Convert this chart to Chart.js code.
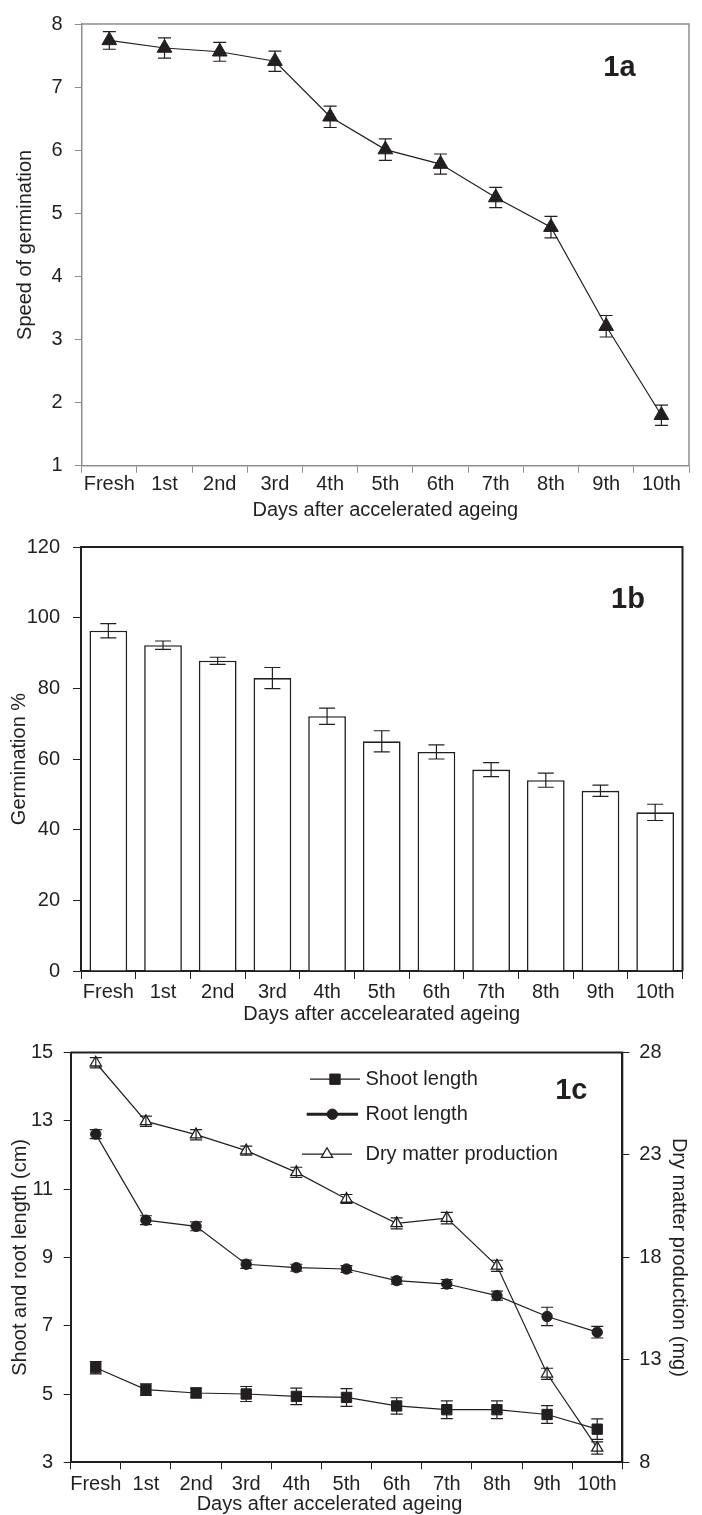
<!DOCTYPE html>
<html><head><meta charset="utf-8">
<script src="https://cdn.jsdelivr.net/npm/chart.js@4.4.1/dist/chart.umd.min.js"></script>
<style>
html,body{margin:0;padding:0;background:#fff;}
body{width:702px;height:1515px;position:relative;overflow:hidden;}
.c{position:absolute;left:0;width:702px;}
#ca{top:0;height:522px;}
#cb{top:522px;height:508px;}
#cc{top:1030px;height:485px;}
</style></head><body>
<div class="c" id="ca"><canvas id="a"></canvas></div>
<div class="c" id="cb"><canvas id="b"></canvas></div>
<div class="c" id="cc"><canvas id="c"></canvas></div>
<script>
// ---------- data ----------
const days = ['Fresh','1st','2nd','3rd','4th','5th','6th','7th','8th','9th','10th'];
const speedOfGermination = [7.74,7.62,7.56,7.41,6.53,6.01,5.78,5.25,4.78,3.21,1.80];
const speedErr = [0.14,0.16,0.15,0.16,0.17,0.17,0.16,0.16,0.17,0.17,0.16];
const germinationPct = [96.3,92.2,87.8,82.9,72.1,65.0,62.0,57.0,54.0,51.0,44.9];
const germinationErr = [2.0,1.2,1.0,3.0,2.3,3.0,2.0,2.0,2.0,1.6,2.3];
const shootLength = [5.77,5.13,5.03,5.00,4.93,4.90,4.65,4.54,4.54,4.40,3.97];
const shootErr = [0.18,0.17,0.14,0.22,0.24,0.26,0.24,0.26,0.26,0.26,0.30];
const rootLength = [12.61,10.09,9.91,8.80,8.70,8.66,8.32,8.22,7.88,7.27,6.81];
const rootErr = [0.13,0.13,0.13,0.12,0.10,0.10,0.10,0.13,0.13,0.27,0.17];
const dryMatter = [27.5,24.64,23.99,23.21,22.15,20.85,19.66,19.92,17.59,12.32,8.70];
const dryErr = [0.25,0.25,0.25,0.22,0.25,0.22,0.27,0.28,0.27,0.27,0.30];

const INK = '#231f20';
const GRAY = '#8e8e8e';
const FONT = '"Liberation Sans", Arial, Helvetica, sans-serif';
Chart.defaults.font.family = FONT;
Chart.defaults.font.size = 20;
Chart.defaults.color = INK;
Chart.defaults.animation = false;

// ---------- plugins ----------
const errorBars = {
  id: 'errorBars',
  afterDatasetsDraw(chart, args, opts) {
    const ctx = chart.ctx;
    chart.data.datasets.forEach((ds, i) => {
      if (!ds.errors) return;
      const meta = chart.getDatasetMeta(i);
      const ys = chart.scales[meta.yAxisID];
      ctx.save();
      ctx.strokeStyle = opts.color || INK;
      ctx.lineWidth = opts.width || 1;
      meta.data.forEach((el, j) => {
        const v = ds.data[j], e = ds.errors[j];
        const x = el.x, y1 = ys.getPixelForValue(v + e), y2 = ys.getPixelForValue(v - e);
        const c = opts.cap;
        ctx.beginPath();
        ctx.moveTo(x, y1); ctx.lineTo(x, y2);
        ctx.moveTo(x - c, y1); ctx.lineTo(x + c, y1);
        ctx.moveTo(x - c, y2); ctx.lineTo(x + c, y2);
        ctx.stroke();
      });
      ctx.restore();
    });
  }
};
const frame = {
  id: 'frame',
  beforeDatasetsDraw(chart, args, opts) {
    const {left, top, right, bottom} = chart.chartArea;
    const ctx = chart.ctx;
    ctx.save();
    ctx.strokeStyle = opts.color; ctx.lineWidth = opts.width;
    ctx.beginPath();
    ctx.moveTo(left, top); ctx.lineTo(right, top); ctx.lineTo(right, bottom);
    ctx.stroke();
    ctx.restore();
  }
};
const panelLabel = {
  id: 'panelLabel',
  afterDraw(chart, args, opts) {
    const {top, right} = chart.chartArea;
    const ctx = chart.ctx;
    ctx.save();
    ctx.font = 'bold ' + opts.size + 'px ' + FONT;
    ctx.fillStyle = INK;
    ctx.textAlign = 'center';
    ctx.textBaseline = 'alphabetic';
    ctx.fillText(opts.text, right - opts.dx, top + opts.dy);
    ctx.restore();
  }
};
// x-axis title drawn slightly left of the plot centre (as in panel 1c)
const shiftedXTitle = {
  id: 'shiftedXTitle',
  afterDraw(chart, args, opts) {
    const {left, right} = chart.chartArea;
    const ctx = chart.ctx;
    ctx.save();
    ctx.font = '20px ' + FONT;
    ctx.fillStyle = INK;
    ctx.textAlign = 'center';
    ctx.textBaseline = 'middle';
    ctx.fillText(opts.text, (left + right) / 2 + opts.dx, chart.height - opts.fromBottom);
    ctx.restore();
  }
};
const insideLegend = {
  id: 'insideLegend',
  afterDraw(chart, args, opts) {
    const ctx = chart.ctx;
    const {left, top} = chart.chartArea;
    chart.data.datasets.forEach((ds, i) => {
      const it = opts.items[i];
      const y = top + it.dy;
      const x0 = left + it.x0, x1 = left + it.x1, xm = (x0 + x1) / 2;
      ctx.save();
      ctx.strokeStyle = INK; ctx.lineWidth = it.lw;
      ctx.beginPath(); ctx.moveTo(x0, y); ctx.lineTo(x1, y); ctx.stroke();
      ctx.fillStyle = ds.pointBackgroundColor;
      ctx.strokeStyle = ds.pointBorderColor;
      ctx.lineWidth = ds.pointBorderWidth;
      Chart.helpers.drawPoint(ctx, {pointStyle: ds.pointStyle, radius: ds.pointRadius, borderWidth: ds.pointBorderWidth, rotation: 0}, xm, y);
      ctx.fillStyle = INK;
      ctx.font = '20px ' + FONT;
      ctx.textBaseline = 'middle'; ctx.textAlign = 'left';
      ctx.fillText(ds.label, left + opts.textX, y);
      ctx.restore();
    });
  }
};

const xTicks = (pad) => ({padding: pad, color: INK, font: {size: 20}, maxRotation: 0, minRotation: 0, autoSkip: false});

// ---------- chart 1a ----------
new Chart(document.getElementById('a'), {
  type: 'line',
  data: {
    labels: days,
    datasets: [{
      label: 'Speed of germination',
      data: speedOfGermination,
      errors: speedErr,
      borderColor: INK, borderWidth: 1.2, tension: 0,
      pointStyle: 'triangle', pointRadius: 8.5,
      pointBackgroundColor: INK, pointBorderColor: INK, pointBorderWidth: 1
    }]
  },
  options: {
    responsive: true, maintainAspectRatio: false,
    layout: {padding: {left: 0, right: 13, top: 16.7, bottom: 0}},
    plugins: {
      legend: {display: false}, tooltip: {enabled: false},
      errorBars: {cap: 6.5, width: 1.2, color: INK},
      frame: {color: GRAY, width: 1.5},
      panelLabel: {text: '1a', size: 29, dx: 69.5, dy: 51.6}
    },
    scales: {
      x: {
        offset: true,
        grid: {offset: true, drawOnChartArea: false, drawTicks: true, tickLength: 7, color: GRAY, lineWidth: 1},
        border: {display: true, color: GRAY, width: 1.5},
        ticks: xTicks(0),
        title: {display: true, text: 'Days after accelerated ageing', color: INK, font: {size: 20}, padding: {top: 0, bottom: 0}},
        afterFit: s => { s.height = 522 - 465.7; }
      },
      y: {
        min: 1, max: 8,
        ticks: {stepSize: 1, padding: 12, color: INK, font: {size: 20}},
        grid: {drawOnChartArea: false, drawTicks: true, tickLength: 7, color: GRAY, lineWidth: 1},
        border: {display: true, color: GRAY, width: 1.5},
        title: {display: true, text: 'Speed of germination', color: INK, font: {size: 20}, padding: {top: 13, bottom: 0}},
        afterFit: s => { s.width = 81.7; }
      }
    }
  },
  plugins: [frame, errorBars, panelLabel]
});

// ---------- chart 1b ----------
new Chart(document.getElementById('b'), {
  type: 'bar',
  data: {
    labels: days,
    datasets: [{
      label: 'Germination %',
      data: germinationPct,
      errors: germinationErr,
      backgroundColor: '#ffffff', borderColor: INK, borderWidth: 1.6,
      borderSkipped: 'start',
      barPercentage: 0.69, categoryPercentage: 1
    }]
  },
  options: {
    responsive: true, maintainAspectRatio: false,
    layout: {padding: {left: 0, right: 702 - 682.5, top: 17, bottom: 0}},
    plugins: {
      legend: {display: false}, tooltip: {enabled: false},
      errorBars: {cap: 8, width: 1.2, color: INK},
      frame: {color: INK, width: 2},
      panelLabel: {text: '1b', size: 29, dx: 54.5, dy: 61}
    },
    scales: {
      x: {
        grid: {offset: true, drawOnChartArea: false, drawTicks: true, tickLength: 8, color: INK, lineWidth: 1},
        border: {display: true, color: INK, width: 2},
        ticks: xTicks(1.5),
        title: {display: true, text: 'Days after accelearated ageing', color: INK, font: {size: 20}, padding: {top: 0, bottom: 4}},
        afterFit: s => { s.height = 508 - 449; }
      },
      y: {
        min: 0, max: 120,
        ticks: {stepSize: 20, padding: 13, color: INK, font: {size: 20}},
        grid: {drawOnChartArea: false, drawTicks: true, tickLength: 8, color: INK, lineWidth: 1},
        border: {display: true, color: INK, width: 2},
        title: {display: true, text: 'Germination %', color: INK, font: {size: 20}, padding: {top: 7, bottom: 0}},
        afterFit: s => { s.width = 81; }
      }
    }
  },
  plugins: [frame, errorBars, panelLabel]
});

// ---------- chart 1c ----------
new Chart(document.getElementById('c'), {
  type: 'line',
  data: {
    labels: days,
    datasets: [{
      label: 'Shoot length',
      data: shootLength, errors: shootErr, yAxisID: 'y',
      borderColor: INK, borderWidth: 1.2, tension: 0,
      pointStyle: 'rect', pointRadius: 7.3,
      pointBackgroundColor: INK, pointBorderColor: INK, pointBorderWidth: 1
    }, {
      label: 'Root length',
      data: rootLength, errors: rootErr, yAxisID: 'y',
      borderColor: INK, borderWidth: 1.2, tension: 0,
      pointStyle: 'circle', pointRadius: 5.2,
      pointBackgroundColor: INK, pointBorderColor: INK, pointBorderWidth: 1
    }, {
      label: 'Dry matter production',
      data: dryMatter, errors: dryErr, yAxisID: 'y2',
      borderColor: INK, borderWidth: 1.2, tension: 0,
      pointStyle: 'triangle', pointRadius: 6.5,
      pointBackgroundColor: '#ffffff', pointBorderColor: INK, pointBorderWidth: 1.3
    }]
  },
  options: {
    responsive: true, maintainAspectRatio: false,
    layout: {padding: {left: 0, right: 0, top: 20, bottom: 0}},
    plugins: {
      legend: {display: false}, tooltip: {enabled: false},
      errorBars: {cap: 6, width: 1.2, color: INK},
      frame: {color: INK, width: 2},
      panelLabel: {text: '1c', size: 29, dx: 51, dy: 46.7},
      shiftedXTitle: {text: 'Days after accelerated ageing', dx: -17, fromBottom: 11},
      insideLegend: {
        textX: 365.5 - 70.7,
        items: [
          {x0: 310 - 70.7, x1: 360 - 70.7, dy: 26.7, lw: 1.3},
          {x0: 306.7 - 70.7, x1: 358 - 70.7, dy: 61.7, lw: 3},
          {x0: 302 - 70.7, x1: 352 - 70.7, dy: 101.7, lw: 1.3}
        ]
      }
    },
    scales: {
      x: {
        offset: true,
        grid: {offset: true, drawOnChartArea: false, drawTicks: true, tickLength: 7, color: INK, lineWidth: 1},
        border: {display: true, color: INK, width: 2},
        ticks: xTicks(3),
        title: {display: false},
        afterFit: s => { s.height = 485 - 432.3; }
      },
      y: {
        position: 'left',
        min: 3, max: 15,
        ticks: {stepSize: 2, padding: 10.5, color: INK, font: {size: 20}},
        grid: {drawOnChartArea: false, drawTicks: true, tickLength: 7, color: INK, lineWidth: 1},
        border: {display: true, color: INK, width: 2},
        title: {display: true, text: 'Shoot and root length (cm)', color: INK, font: {size: 20}, padding: {top: 8, bottom: 0}},
        afterFit: s => { s.width = 70.7; }
      },
      y2: {
        position: 'right',
        min: 8, max: 28,
        ticks: {stepSize: 5, padding: 10, color: INK, font: {size: 20}},
        grid: {drawOnChartArea: false, drawTicks: true, tickLength: 7, color: INK, lineWidth: 1},
        border: {display: true, color: INK, width: 2},
        title: {display: true, text: 'Dry matter production (mg)', color: INK, font: {size: 20}, padding: {top: 11, bottom: 0}},
        afterFit: s => { s.width = 702 - 622.3; }
      }
    }
  },
  plugins: [frame, errorBars, panelLabel, shiftedXTitle, insideLegend]
});
</script>
</body></html>
